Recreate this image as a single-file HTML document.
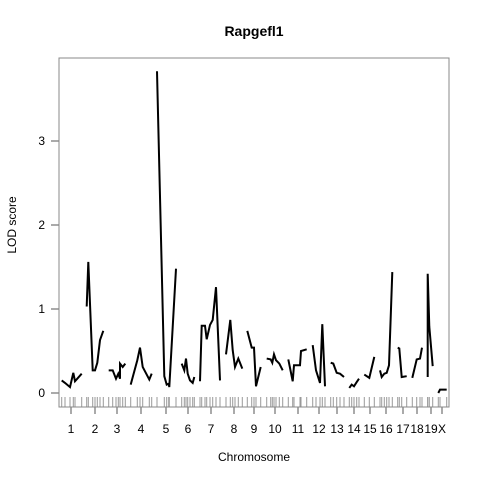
<!DOCTYPE html>
<html><head><meta charset="utf-8"><style>
body{margin:0;background:#fff}
svg{display:block;font-family:"Liberation Sans",sans-serif}
</style></head><body>
<svg id="chart" width="480" height="480">
<rect x="0" y="0" width="480" height="480" fill="#fff"/>
<text x="254" y="36" text-anchor="middle" font-size="14" font-weight="bold">Rapgefl1</text>
<text x="254" y="461" text-anchor="middle" font-size="12">Chromosome</text>
<text transform="translate(16,225) rotate(-90)" text-anchor="middle" font-size="12">LOD score</text>
<g id="rug"></g><g id="lines"></g><g id="axes"></g>
<rect x="59" y="58" width="390" height="349" fill="none" stroke="#888" stroke-width="1"/>
</svg>
<script>
const chrNames=["1","2","3","4","5","6","7","8","9","10","11","12","13","14","15","16","17","18","19","X"];
const chrCenters=[12,36,58,82,107,129,152,175,195,216,239,260,278,295,311,327,344,358,372,383];
const yTicks=[0,1,2,3];
const chr1=[[2.7,0.15],[6,0.12],[11,0.07],[14.3,0.24],[16,0.14],[22.7,0.23]];
const chr2=[[27.7,1.03],[29.3,1.56],[33.7,0.27],[36,0.27],[38.3,0.36],[41,0.63],[44.3,0.74]];
const chr3=[[49.7,0.27],[53.7,0.27],[57,0.17],[59.3,0.23],[61,0.17],[61,0.35],[63.7,0.31],[66.3,0.35]];
const chr4=[[71.7,0.1],[78.3,0.39],[81,0.54],[83.7,0.31],[90.3,0.16],[92.7,0.23]];
const chr5=[[98,3.83],[105.3,0.2],[107.7,0.1],[109.7,0.11],[110.3,0.07],[117,1.48]];
const chr6=[[122.7,0.35],[125.3,0.27],[127,0.41],[128.7,0.23],[131,0.15],[133.7,0.12],[135.3,0.19]];
const chr7=[[141,0.14],[142.7,0.8],[146,0.8],[147.7,0.64],[151,0.81],[153.7,0.87],[157,1.26],[161,0.15]];
const chr8=[[167,0.46],[171.3,0.87],[173.7,0.51],[176,0.31],[179.3,0.41],[183.3,0.29]];
const chr9=[[188.3,0.74],[192.7,0.54],[195,0.54],[197,0.08],[201.7,0.31]];
const chr10=[[207.7,0.41],[211.7,0.4],[213.3,0.36],[215,0.46],[217,0.39],[220.3,0.35],[223.7,0.27]];
const chr11=[[229.3,0.4],[233.7,0.14],[235,0.33],[241,0.33],[242,0.5],[247.7,0.52]];
const chr12=[[253.7,0.57],[257,0.27],[261,0.12],[263.3,0.82],[266,0.08]];
const chr13=[[271.7,0.36],[274.3,0.35],[277.7,0.24],[281,0.23],[285,0.19]];
const chr14=[[290.3,0.06],[292.7,0.1],[295,0.08],[297.7,0.13],[300,0.17]];
const chr15=[[305.3,0.22],[310.3,0.18],[315.3,0.43]];
const chr16=[[321,0.27],[322.7,0.19],[325.3,0.23],[327.7,0.24],[330,0.33],[333.3,1.44]];
const chr17=[[338.7,0.54],[340.3,0.53],[342.7,0.19],[347.7,0.2]];
const chr18=[[353.3,0.18],[357.7,0.4],[361,0.41],[363,0.54]];
const chr19=[[368.7,0.19],[368.7,1.42],[370.3,0.79],[373.7,0.32]];
const chrX=[[379.3,0.0],[381,0.04],[387.7,0.04]];
const series=[chr1,chr2,chr3,chr4,chr5,chr6,chr7,chr8,chr9,chr10,chr11,chr12,chr13,chr14,chr15,chr16,chr17,chr18,chr19,chrX];
const NS="http://www.w3.org/2000/svg";
const xs=v=>59+v;
const ys=v=>393-84*v;
const lines=document.getElementById('lines'),rug=document.getElementById('rug'),axes=document.getElementById('axes');
series.forEach((s,i)=>{
  const p=document.createElementNS(NS,'polyline');
  p.setAttribute('points',s.map(d=>xs(d[0])+','+ys(d[1])).join(' '));
  p.setAttribute('fill','none');p.setAttribute('stroke','#000');p.setAttribute('stroke-width','2');
  
  
  lines.appendChild(p);
  s.forEach(d=>{
    const l=document.createElementNS(NS,'line');
    l.setAttribute('x1',xs(d[0]));l.setAttribute('x2',xs(d[0]));l.setAttribute('y1',397);l.setAttribute('y2',407);
    l.setAttribute('stroke','#999');l.setAttribute('stroke-width','1');
    
    
    rug.appendChild(l);
  });
});
chrNames.forEach((n,i)=>{
  const x=xs(chrCenters[i]);
  const l=document.createElementNS(NS,'line');
  l.setAttribute('x1',x);l.setAttribute('x2',x);l.setAttribute('y1',407);l.setAttribute('y2',414);l.setAttribute('stroke','#555');
  
  
  axes.appendChild(l);
  const t=document.createElementNS(NS,'text');
  t.setAttribute('x',x);t.setAttribute('y',433);t.setAttribute('text-anchor','middle');t.setAttribute('font-size','12');
  t.textContent=n;
  
  
  axes.appendChild(t);
});
yTicks.forEach(v=>{
  const y=ys(v);
  const l=document.createElementNS(NS,'line');
  l.setAttribute('x1',51);l.setAttribute('x2',59);l.setAttribute('y1',y);l.setAttribute('y2',y);l.setAttribute('stroke','#555');
  
  
  axes.appendChild(l);
  const t=document.createElementNS(NS,'text');
  t.setAttribute('x',45);t.setAttribute('y',y+4);t.setAttribute('text-anchor','end');t.setAttribute('font-size','12');
  t.textContent=String(v);
  
  
  axes.appendChild(t);
});
</script>
</body></html>
